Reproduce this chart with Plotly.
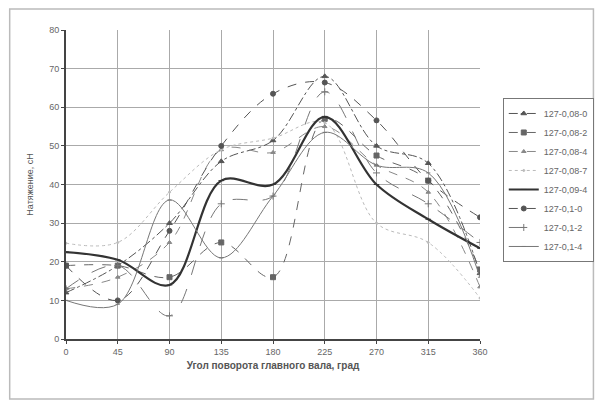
import plotly.graph_objects as go

angles = [0, 45, 90, 135, 180, 225, 270, 315, 360]
x_ticks = [0, 45, 90, 135, 180, 225, 270, 315, 360]

names = ["127-0,08-0", "127-0,08-2", "127-0,08-4", "127-0,08-7",
         "127-0,09-4", "127-0,1-0", "127-0,1-2", "127-0,1-4"]

s_08_0 = [12, 19, 30, 46, 51.4, 68, 50, 45.5, 17]
s_08_2 = [19, 19, 16, 25, 16, 57, 47.5, 41, 18]
s_08_4 = [13, 16, 25, 49, 48.3, 55, 45, 38, 13.5]
s_08_7 = [24.8, 25, 38, 49, 52, 56, 30, 25, 10.6]
s_09_4 = [22.5, 20.5, 14, 41, 40, 57.5, 40, 31, 23.5]
s_1_0 = [19, 10, 28, 50, 63.5, 66.4, 56.6, 41, 31.5]
s_1_2 = [13, 19, 6, 35, 37, 64, 43, 35, 25]
s_1_4 = [10, 9, 36, 21, 37, 53.5, 45, 43, 16]

series = [s_08_0, s_08_2, s_08_4, s_08_7, s_09_4, s_1_0, s_1_2, s_1_4]

styles = [
    dict(color="#555", width=1, dash="dashdot", symbol="triangle-up", msize=5),
    dict(color="#666", width=1, dash="dash", symbol="square", msize=5),
    dict(color="#888", width=1, dash="dash", symbol="triangle-up", msize=4),
    dict(color="#bbb", width=1, dash="dot", symbol="circle", msize=2),
    dict(color="#333", width=2.2, dash="solid", symbol="line-ew", msize=4),
    dict(color="#555", width=1, dash="dash", symbol="circle", msize=5),
    dict(color="#777", width=1, dash="longdash", symbol="cross-thin", msize=5),
    dict(color="#777", width=1, dash="solid", symbol="line-ew", msize=3),
]

fig = go.Figure()
for name, vals, st in zip(names, series, styles):
    fig.add_trace(go.Scatter(
        x=angles, y=vals, name=name, mode="lines+markers",
        line=dict(color=st["color"], width=st["width"], dash=st["dash"],
                  shape="spline", smoothing=1.0),
        marker=dict(symbol=st["symbol"], size=st["msize"], color=st["color"],
                    line=dict(color=st["color"], width=1)),
    ))

fig.update_layout(
    width=598, height=395,
    margin=dict(l=58, r=121, t=22, b=64),
    paper_bgcolor="white", plot_bgcolor="white",
    font=dict(family="Liberation Sans, Arial, sans-serif", size=9, color="#555"),
    showlegend=True,
    legend=dict(x=1.055, y=0.78, xanchor="left", yanchor="top",
                bordercolor="#777", borderwidth=1, bgcolor="white",
                font=dict(size=9, color="#666"), itemwidth=30,
                tracegroupgap=0),
    shapes=[dict(type="rect", xref="paper", yref="paper",
                 x0=-0.136, x1=1.274, y0=-0.194, y1=1.068,
                 line=dict(color="#bbb", width=1.5))],
)
fig.update_xaxes(range=[0, 360], tickvals=x_ticks, ticktext=[str(t) for t in x_ticks],
                 showgrid=True, gridcolor="#aaa", gridwidth=1,
                 showline=True, linecolor="#444", linewidth=2,
                 ticks="outside", ticklen=3, tickcolor="#444",
                 tickfont=dict(size=9, color="#666"), zeroline=False,
                 title=dict(text="<b>Угол поворота главного вала, град</b>",
                            font=dict(size=10, color="#555"), standoff=6))
fig.update_yaxes(range=[0, 80], dtick=10,
                 showgrid=True, gridcolor="#aaa", gridwidth=1,
                 showline=True, linecolor="#444", linewidth=2,
                 ticks="outside", ticklen=3, tickcolor="#444",
                 tickfont=dict(size=9, color="#666"), zeroline=False,
                 title=dict(text="Натяжение, сН",
                            font=dict(size=9, color="#555"), standoff=14))

fig.write_html("out.html")
